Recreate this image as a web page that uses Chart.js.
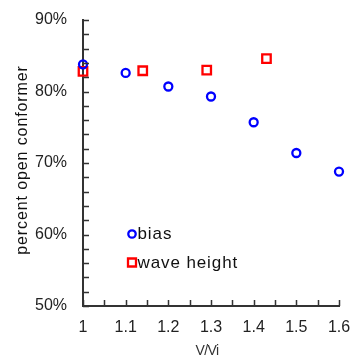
<!DOCTYPE html>
<html>
<head>
<meta charset="utf-8">
<script src="https://cdn.jsdelivr.net/npm/chart.js@4.4.1/dist/chart.umd.min.js"></script>
<style>
  html, body { margin: 0; padding: 0; background: #fff; }
  #wrap { width: 353px; height: 359px; }
</style>
</head>
<body>
<div id="wrap"><canvas id="c" width="353" height="359"></canvas></div>
<script>
// ---- data ----
const biasX = [1.0, 1.1, 1.2, 1.3, 1.4, 1.5, 1.6];
const biasY = [83.8, 82.6, 80.7, 79.3, 75.7, 71.4, 68.8];
const waveX = [1.0, 1.14, 1.29, 1.43];
const waveY = [82.8, 82.9, 83.0, 84.6];
const seriesLabels = ['bias', 'wave height'];
const xTitle = 'V/Vi';
const yTitle = 'percent open conformer';

const toPts = (xs, ys) => xs.map((x, i) => ({ x: x, y: ys[i] }));

const FONT = '"Liberation Sans", Arial, sans-serif';
const AXIS_COLOR = '#333333';

const decorPlugin = {
  id: 'decor',
  afterDraw(chart) {
    const ctx = chart.ctx;
    const xs = chart.scales.x, ys = chart.scales.y;
    const area = chart.chartArea;
    ctx.save();
    // inside minor/major ticks
    ctx.strokeStyle = AXIS_COLOR;
    ctx.lineWidth = 1.5;
    ctx.beginPath();
    for (let v = ys.min; v <= ys.max + 1e-9; v += 2) {
      const p = Math.round(ys.getPixelForValue(v)) + 0.5;
      ctx.moveTo(area.left, p);
      ctx.lineTo(area.left + 6, p);
    }
    for (let k = 0; k <= 12; k++) {
      const v = xs.min + k * 0.05;
      const p = Math.round(xs.getPixelForValue(v)) + 0.5;
      ctx.moveTo(p, area.bottom);
      ctx.lineTo(p, area.bottom - 6);
    }
    ctx.stroke();

    // y title
    ctx.fillStyle = '#111';
    ctx.font = '16px ' + FONT;
    try { ctx.letterSpacing = '0.9px'; } catch (e) {}
    ctx.textAlign = 'center';
    ctx.textBaseline = 'middle';
    ctx.translate(23, 160);
    ctx.rotate(-Math.PI / 2);
    ctx.fillText(yTitle, 0, 0);
    ctx.restore();

    // x title
    ctx.save();
    ctx.fillStyle = '#333';
    ctx.font = '14px ' + FONT;
    try { ctx.letterSpacing = '-0.6px'; } catch (e) {}
    ctx.textAlign = 'center';
    ctx.textBaseline = 'middle';
    ctx.fillText(xTitle, 207, 351);
    ctx.restore();

    // legend inside plot
    ctx.save();
    const ds = chart.data.datasets;
    const legendX = 132, legendY = [234, 262.5];
    ds.forEach((d, i) => {
      const cy = legendY[i];
      ctx.strokeStyle = d.borderColor;
      ctx.lineWidth = 2.3;
      ctx.beginPath();
      if (d.pointStyle === 'rect') {
        ctx.rect(legendX - 4, cy - 4, 8, 8);
      } else {
        ctx.arc(legendX, cy, 3.7, 0, Math.PI * 2);
      }
      ctx.stroke();
      ctx.fillStyle = '#111';
      ctx.font = '17px ' + FONT;
      try { ctx.letterSpacing = '0.9px'; } catch (e) {}
      ctx.textAlign = 'left';
      ctx.textBaseline = 'middle';
      ctx.fillText(d.label, legendX + 5.5, cy + 0.5);
    });
    ctx.restore();
  }
};

new Chart(document.getElementById('c'), {
  type: 'scatter',
  data: {
    datasets: [
      {
        label: seriesLabels[0],
        data: toPts(biasX, biasY),
        pointStyle: 'circle',
        pointRadius: 4,
        pointHoverRadius: 4,
        borderColor: '#0000ff',
        backgroundColor: 'rgba(0,0,0,0)',
        borderWidth: 2.3,
        clip: false
      },
      {
        label: seriesLabels[1],
        data: toPts(waveX, waveY),
        pointStyle: 'rect',
        pointRadius: 6,
        pointHoverRadius: 6,
        borderColor: '#ff0000',
        backgroundColor: 'rgba(0,0,0,0)',
        borderWidth: 2.3,
        clip: false
      }
    ]
  },
  options: {
    responsive: false,
    animation: false,
    events: [],
    layout: { padding: { top: 20, right: 14, left: 0, bottom: 0 } },
    plugins: {
      legend: { display: false },
      tooltip: { enabled: false }
    },
    scales: {
      x: {
        type: 'linear',
        min: 1, max: 1.6,
        afterFit(s) { s.height = 53; s.paddingLeft = 0; s.paddingRight = 0; },
        grid: { drawOnChartArea: false, drawTicks: false },
        border: { display: true, color: AXIS_COLOR, width: 2 },
        ticks: {
          stepSize: 0.1,
          padding: 12,
          color: '#222',
          font: { family: FONT, size: 16 },
          callback: (v) => String(Number(v.toFixed(1)))
        }
      },
      y: {
        type: 'linear',
        min: 50, max: 90,
        afterFit(s) { s.width = 83; s.paddingTop = 0; s.paddingBottom = 0; },
        grid: { drawOnChartArea: false, drawTicks: false },
        border: { display: true, color: AXIS_COLOR, width: 2 },
        ticks: {
          stepSize: 10,
          padding: 16,
          color: '#222',
          font: { family: FONT, size: 16 },
          callback: (v) => v + '%'
        }
      }
    }
  },
  plugins: [decorPlugin]
});
</script>
</body>
</html>
